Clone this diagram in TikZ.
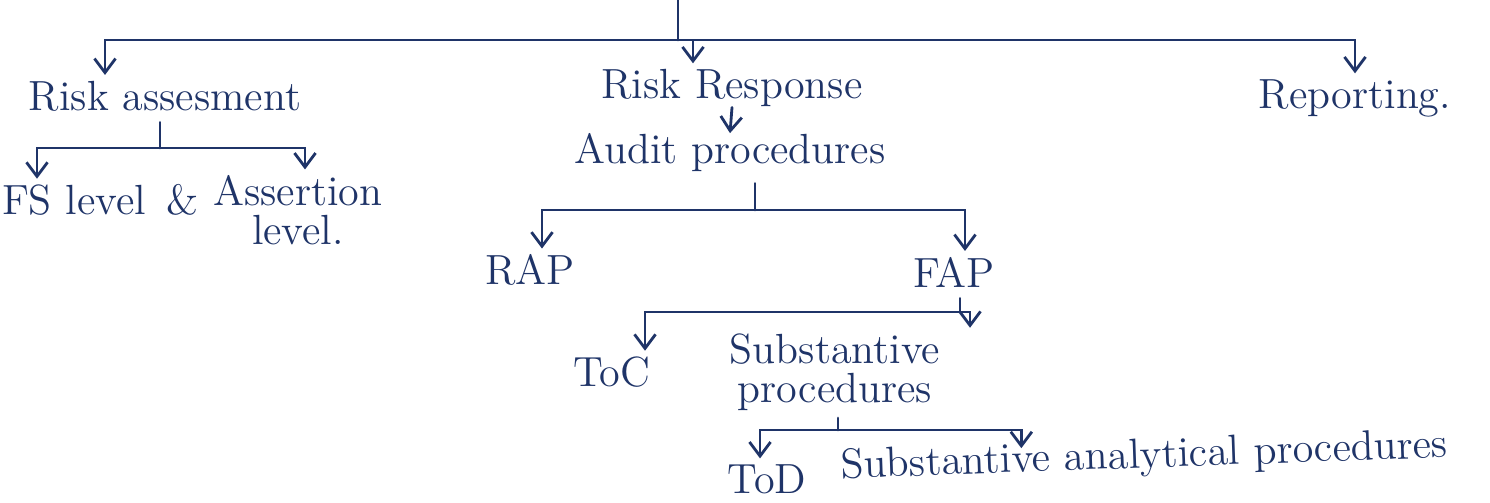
\documentclass[tikz,border=0pt]{standalone}
\usepackage{tikz}
\usetikzlibrary{arrows.meta}

\begin{document}
\begin{tikzpicture}[x=1cm,y=-1cm,
    every node/.style={font=\fontsize{12}{13}\selectfont,text=ink,inner sep=0pt},
    twoline/.style={align=center,font=\fontsize{12}{11}\selectfont},
    link/.style={draw=ink,line width=0.8pt,line cap=round},
    down/.style={link,-{Straight Barb[length=4pt,width=6pt]},shorten >=1.5pt}]
    \definecolor{ink}{HTML}{1F3468} % ballpoint blue
    \useasboundingbox (0,0) rectangle (14.9,5.02);
    % headings
    \node (ra) at (1.65,0.96) {Risk assesment};
    \node (rr) at (7.32,0.88) {Risk Response};
    \node (rep) at (13.55,0.98) {Reporting.};
    \node (ap) at (7.30,1.53) {Audit procedures};
    \node (fs) at (0.74,2.00) {FS level};
    \node (amp) at (1.83,2.00) {\&};
    \node[twoline] (asl) at (2.98,2.10) {Assertion\\level.};
    \node (rap) at (5.30,2.70) {RAP};
    \node (fap) at (9.54,2.72) {FAP};
    \node (toc) at (6.12,3.72) {ToC};
    \node[twoline] (sp) at (8.35,3.72) {Substantive\\procedures};
    \node (tod) at (7.67,4.79) {ToD};
    \node[anchor=west,rotate=2] (sap) at (8.40,4.68) {Substantive analytical procedures};
    % branches
    \coordinate (top) at (6.78,0);
    \coordinate (topbar) at (6.78,0.40);
    \draw[link] (top) -- (topbar);
    \draw[down] (topbar) -| ([xshift=-0.6cm]ra.north);
    \draw[down] (topbar) -| ([xshift=-0.39cm]rr.north);
    \draw[down] (topbar) -| (rep.north);
    \coordinate (rabar) at (1.60,1.48);
    \draw[link,shorten <=3pt] (ra.south -| rabar) -- (rabar);
    \draw[down] (rabar) -| ([xshift=-0.37cm]fs.north);
    \draw[down] (rabar) -| ([xshift=0.07cm]asl.north);
    \draw[down,shorten >=0pt] (rr.south) -- (ap.north);
    \coordinate (apbar) at (7.55,2.10);
    \draw[link,shorten <=3pt] (ap.south -| apbar) -- (apbar);
    \draw[down] (apbar) -| ([xshift=0.12cm]rap.north);
    \draw[down] (apbar) -| ([xshift=0.11cm]fap.north);
    \coordinate (fapbar) at (9.60,3.12);
    \draw[link,shorten <=3pt] (fap.south -| fapbar) -- (fapbar);
    \draw[down] (fapbar) -| ([xshift=0.33cm]toc.north);
    \draw[down] (fapbar) -| ([xshift=1.35cm]sp.north);
    \coordinate (spbar) at (8.38,4.30);
    \draw[link,shorten <=2pt] (sp.south -| spbar) -- (spbar);
    \draw[down] (spbar) -| ([xshift=-0.07cm]tod.north);
    \draw[down,shorten >=0pt] (spbar) -| ([xshift=1.82cm]sap.north west);
\end{tikzpicture}
\end{document}
